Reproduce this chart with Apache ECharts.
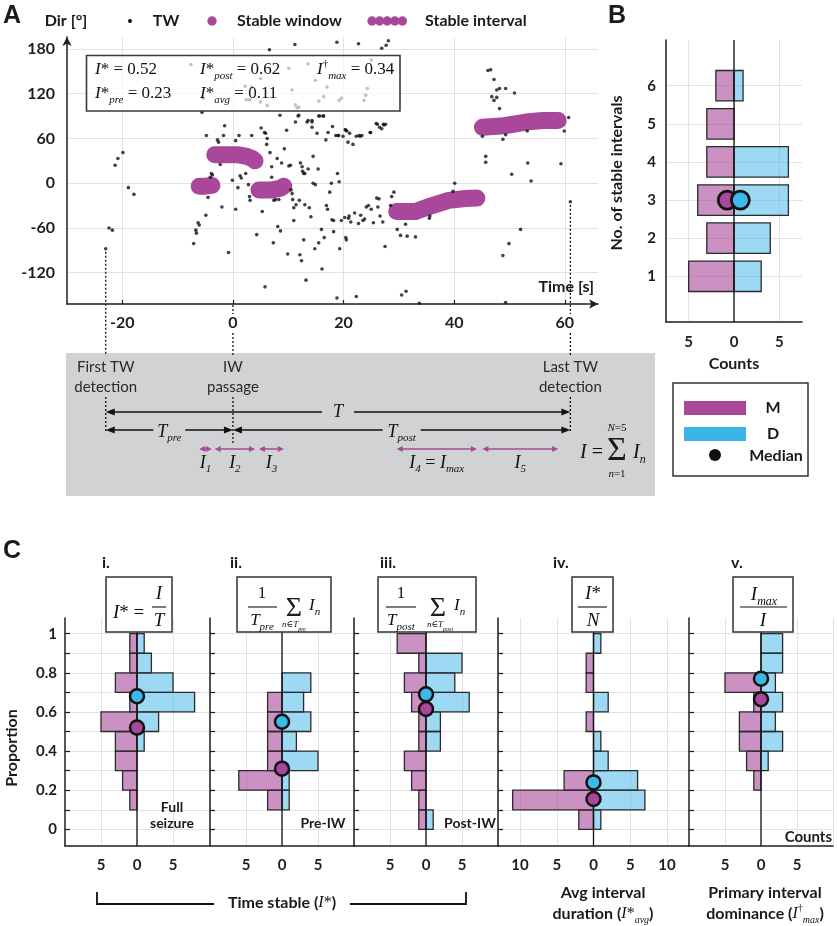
<!DOCTYPE html>
<html><head><meta charset="utf-8">
<script src="https://cdn.jsdelivr.net/npm/echarts@6.0.0/dist/echarts.min.js"></script>
<style>html,body{margin:0;padding:0;background:#fff;}#chart{width:837px;height:926px;}</style>
</head><body><div id="chart"></div>
<script>
// ================= DATA =================
// Panel A: travelling-wave (TW) detections [time s, direction deg]
const twPoints = [
[-23.0,-88],[-22.4,-60],[-21.8,-63],[-21.3,24],[-20.8,33],[-19.9,41],[-18.9,-6],[-17.9,-15],
[-7.6,159],[-7.1,-81],[-6.7,-63],[-6.6,-67],[-6.3,-53],[-6.1,-56],[-5.6,95],[-5.4,114],[-4.8,64],[-4.9,-43],[-4.5,-19],[-4.1,8],[-3.9,13],[-3.7,11],[-2.8,58],[-2.6,55],[-2.3,25],[-2.0,-32],[-1.7,64],[-1.5,77],[-0.8,-93],[-0.1,4],[0.5,-35],[0.5,57],[0.9,-6],[1.1,64],[1.3,10],[1.5,7],[2.3,13],[2.8,-2],[3.0,-18],[3.1,-23],[3.4,64],[4.3,-69],[5.1,74],[5.3,-38],[5.7,68],[5.8,-139],[6.1,52],[6.2,60],[6.6,179],[6.7,41],[7.0,22],[7.0,8],[7.4,-23],[7.3,-80],[7.7,-22],[8.0,33],[8.1,-58],[8.3,-22],[8.5,91],[8.6,-64],[8.8,27],[9.3,46],[9.7,71],[9.9,-95],[10.1,23],[10.4,24],[10.5,-9],[10.7,-14],[10.8,-22],[11.0,-50],[11.0,-33],[11.2,186],[11.3,82],[11.4,-29],[11.6,101],[11.8,90],[12.0,-23],[12.1,-96],[12.2,27],[12.4,-104],[12.5,22],[12.6,16],[12.8,13],[12.8,-76],[13.0,13],[13.0,-29],[13.2,-130],[13.4,82],[13.6,19],[13.8,-33],[14.1,-45],[14.3,82],[14.3,75],[14.5,36],[14.5,0],[14.8,-88],[14.9,-2],[15.2,67],[15.4,19],[15.5,-80],[15.7,90],[16.0,-62],[16.1,-115],[16.3,90],[16.5,-73],[16.8,58],[16.9,-30],[17.1,-35],[17.2,68],[17.5,-12],[17.8,0],[17.9,-49],[18.0,76],[18.2,-50],[18.2,-65],[18.6,64],[18.8,-154],[18.8,189],[18.9,13],[19.1,64],[19.2,2],[19.3,-88],[19.6,-50],[19.9,63],[20.2,-46],[20.3,72],[20.4,-73],[20.5,-76],[20.6,70],[20.8,55],[20.9,-47],[21.0,-44],[21.3,-52],[21.7,52],[22.0,-40],[22.3,63],[22.3,-152],[22.7,187],[22.7,-54],[23.0,63],[23.1,-43],[23.5,-50],[23.8,-48],[24.1,-32],[24.5,-30],[24.8,68],[25.0,-35],[25.4,-53],[25.9,80],[26.0,-20],[26.2,-32],[26.4,-21],[26.6,-44],[26.5,75],[26.9,181],[27.1,-52],[27.2,79],[27.5,-85],[27.6,79],[27.7,185],[28.1,191],[28.5,-30],[28.7,-18],[29.1,-12],[29.7,-62],[30.3,-70],[30.5,-150],[31.2,-55],[31.3,-145],[31.5,-71],[33.0,-72],[33.7,-161],[35.5,-47],[35.6,-44],[39.8,-11],[40.1,0],
[45.1,63],[45.7,36],[45.7,28],[46.1,151],[46.6,152],[46.8,116],[47.2,139],[47.2,111],[47.7,125],[47.7,115],[48.2,127],[48.2,100],[48.8,59],[48.8,-97],[49.3,127],[49.3,65],[49.3,-160],[49.9,-81],[50.4,12],[50.9,121],[52.0,-62],[53.2,70],[53.3,27],[53.9,3],[59.3,26],[59.9,70],[60.7,88],[61.0,-25],
[2.2,130],[2.4,112],[3.0,112],[3.4,129],[5.0,140],[5.0,109],[6.2,104],[10.1,154],[10.7,125],[11.3,105],[11.9,102],[13.6,160],[14.9,138],[15.5,110],[16.4,116],[17.0,129],[19.2,111],[19.6,114],[23.7,111],[24.0,118],[24.3,127],[25.0,165],
[11.9,91],[13.6,84],[14.3,84],[15.5,90],[16.4,90],[5.9,67],[19.0,64],[20.4,71],[21.1,67],[22.8,64],[23.3,64],[24.9,68],[26.1,79],[26.9,73],[27.3,78]
];
// Stable intervals (window centres [time, direction])
const stableInterval1 = [[-6.1,-4],[-5.0,-4],[-3.8,-3]];
const stableInterval2 = [[-3.3,38],[1.0,38],[2.5,36],[3.5,33],[4.0,30]];
const stableInterval3 = [[4.7,-9],[7.0,-9],[8.5,-7],[9.2,-4]];
const stableInterval4 = [[29.6,-38],[33.0,-38],[36.0,-30],[39.0,-23],[42.0,-20.5],[44.1,-20]];
const stableInterval5 = [[45.1,75],[49.0,77],[53.0,82],[56.0,84],[58.8,84]];
const stableIntervals = [stableInterval1, stableInterval2, stableInterval3, stableInterval4, stableInterval5];
const firstTw = [-23.0, -88];
const iwTime = 0;
const lastTw = [61.0, -25];
const timeTicks = [-20, 0, 20, 40, 60];
const dirTicks = [-120, -60, 0, 60, 120, 180];
const statValues = {Istar:'0.52', post:'0.62', max:'0.34', pre:'0.23', avg:'0.11'};

// Panel B: number of stable intervals
const nIntervals = [1, 2, 3, 4, 5, 6];
const countsM_B = [5, 3, 4, 3, 3, 2];
const countsD_B = [3, 4, 6, 6, 0, 1];
const medianM_B = 3, medianD_B = 3;
const countTicksB = [-5, 0, 5];

// Panel C: histograms over proportion bins (bottom bin [0,0.1] first)
const binEdges = [0, 0.1, 0.2, 0.3, 0.4, 0.5, 0.6, 0.7, 0.8, 0.9, 1.0];
const fullM = [0,1,2,3,3,5,1,3,1,1];
const fullD = [0,0,0,0,1,3,8,5,2,1];
const preM  = [0,2,6,2,2,2,2,0,0,0];
const preD  = [0,1,1,5,2,4,3,4,0,0];
const postM = [1,1,2,3,1,1,2,3,1,4];
const postD = [1,0,0,0,2,2,6,4,5,0];
const avgM  = [2,11,4,0,0,1,0,1,1,0];
const avgD  = [1,7,6,2,1,0,2,0,0,1];
const domM  = [0,0,1,2,3,3,1,5,0,0];
const domD  = [0,0,0,1,3,2,3,2,3,3];
const medianM_C = [0.52, 0.31, 0.615, 0.155, 0.665];
const medianD_C = [0.68, 0.55, 0.69, 0.24, 0.77];
const propTicks = [0, 0.1, 0.2, 0.3, 0.4, 0.5, 0.6, 0.7, 0.8, 0.9, 1.0];
const propLabels = [0, 0.2, 0.4, 0.6, 0.8, 1.0];

// ================= STYLE / LAYOUT =================
const SANS = 'Lato, "Noto Sans", "DejaVu Sans", sans-serif';
const SERIF = '"Liberation Serif", "DejaVu Serif", serif';
const HEAD = '"Liberation Sans", Arial, sans-serif';
const AX = '#1e1e1e', GRIDC = '#e2e2e2';
const PURPLE = '#A9479A', BLUE = '#3BB4E8';
const M_FILL = 'rgba(169,71,154,0.6)', D_FILL = 'rgba(60,180,230,0.5)';
const MED_M = '#A9479A', MED_D = '#3CB9E9';
const fS = (s, w) => (w || 'bold') + ' ' + s + 'px ' + SANS;
const fI = s => 'italic ' + s + 'px ' + SERIF;
const fR = s => s + 'px ' + SERIF;
const fH = s => 'bold ' + s + 'px ' + HEAD;

const cPanels = [
  {m: fullM, d: fullD, range: [-10, 10], grid: {left: 65, width: 144}, vals: [-5,0,5,10], labels: [-5,0,5]},
  {m: preM, d: preD, range: [-10, 10], grid: {left: 210, width: 144}, vals: [-5,0,5,10], labels: [-5,0,5]},
  {m: postM, d: postD, range: [-10, 10], grid: {left: 354, width: 144}, vals: [-5,0,5,10], labels: [-5,0,5]},
  {m: avgM, d: avgD, range: [-13, 13], grid: {left: 498, width: 191}, vals: [-10,-5,0,5,10], labels: [-10,-5,0,5,10]},
  {m: domM, d: domD, range: [-10, 10], grid: {left: 689, width: 144}, vals: [-5,0,5,10], labels: [-5,0,5]}
];
const C_YMIN = -0.085, C_YMAX = 1.08;

const chart = echarts.init(document.getElementById('chart'));

const tickLabel = (size, extra) => Object.assign({color: AX, fontFamily: SANS, fontWeight: 'bold', fontSize: size}, extra || {});
const axLine = (arrow) => ({show: true, onZero: false, lineStyle: {color: AX, width: 1.5}, symbol: arrow ? ['none', 'arrow'] : 'none', symbolSize: [7, 9]});
const split = {show: true, lineStyle: {color: GRIDC, width: 1}};

const grids = [
  {left: 67, top: 37, width: 531, height: 267},
  {left: 666, top: 40, width: 136, height: 282}
];
cPanels.forEach(p => grids.push({left: p.grid.left, top: 618, width: p.grid.width, height: 228}));
grids.forEach(g => { g.containLabel = false; g.outerBoundsMode = 'none'; });

const xAxes = [
  {gridIndex: 0, type: 'value', min: -30, max: 66, axisLine: axLine(true),
   axisTick: {show: true, inside: true, length: 4, customValues: timeTicks, lineStyle: {color: AX, width: 1.2}},
   axisLabel: tickLabel(16, {customValues: timeTicks, margin: 11}), splitLine: split},
  {gridIndex: 1, type: 'value', min: -7.5, max: 7.5, axisLine: axLine(false),
   axisTick: {show: false, customValues: countTicksB},
   axisLabel: tickLabel(15, {customValues: countTicksB, margin: 13, formatter: v => String(Math.abs(v))}), splitLine: split}
];
const yAxes = [
  {gridIndex: 0, type: 'value', min: -162, max: 196, axisLine: axLine(true),
   axisTick: {show: false, customValues: dirTicks},
   axisLabel: tickLabel(16, {customValues: dirTicks, margin: 12}), splitLine: split},
  {gridIndex: 1, type: 'value', min: -0.2, max: 7.2, axisLine: axLine(false),
   axisTick: {show: false, customValues: nIntervals},
   axisLabel: tickLabel(15, {customValues: nIntervals, margin: 10}), splitLine: split}
];
cPanels.forEach((p, k) => {
  xAxes.push({gridIndex: 2 + k, type: 'value', min: p.range[0], max: p.range[1], axisLine: axLine(false),
    axisTick: {show: false, customValues: p.vals},
    axisLabel: tickLabel(15, {customValues: p.labels, margin: 12, formatter: v => String(Math.abs(v))}), splitLine: split});
  yAxes.push({gridIndex: 2 + k, type: 'value', min: C_YMIN, max: C_YMAX, axisLine: axLine(false),
    axisTick: {show: true, inside: true, length: 5, customValues: propTicks, lineStyle: {color: AX, width: 1.2}},
    axisLabel: tickLabel(15, {show: k === 0, customValues: propLabels, margin: 8, formatter: v => String(Math.round(v * 10) / 10)}),
    splitLine: split});
});

function barRender(fill) {
  return function (params, api) {
    const lo = api.value(0), hi = api.value(1), v = api.value(2);
    const a = api.coord([0, hi]), b = api.coord([v, lo]);
    return {type: 'rect', shape: {x: Math.min(a[0], b[0]), y: Math.min(a[1], b[1]), width: Math.abs(b[0] - a[0]), height: Math.abs(b[1] - a[1])},
      style: {fill: fill, stroke: '#2b2b2b', lineWidth: 1.3}};
  };
}
const series = [];
// Panel A
stableIntervals.forEach(iv => series.push({type: 'line', xAxisIndex: 0, yAxisIndex: 0, data: iv, symbol: 'none', silent: true, z: 3,
  lineStyle: {color: PURPLE, width: 17, cap: 'round', join: 'round'}}));
series.push({type: 'scatter', xAxisIndex: 0, yAxisIndex: 0, data: twPoints, symbolSize: 3.6, silent: true, z: 4, itemStyle: {color: '#111'}});
// Panel B
const bData = (counts, sign) => nIntervals.map((n, i) => [n - 0.4, n + 0.4, sign * counts[i]]).filter(d => d[2] !== 0);
series.push({type: 'custom', xAxisIndex: 1, yAxisIndex: 1, data: bData(countsM_B, -1), renderItem: barRender(M_FILL), silent: true, z: 3});
series.push({type: 'custom', xAxisIndex: 1, yAxisIndex: 1, data: bData(countsD_B, 1), renderItem: barRender(D_FILL), silent: true, z: 3});
series.push({type: 'line', xAxisIndex: 1, yAxisIndex: 1, data: [[0, -0.2], [0, 7.2]], symbol: 'none', silent: true, z: 4, lineStyle: {color: '#111', width: 1.3}});
series.push({type: 'scatter', xAxisIndex: 1, yAxisIndex: 1, data: [[-0.75, medianM_B]], symbolSize: 18, silent: true, z: 5, itemStyle: {color: MED_M, borderColor: '#111', borderWidth: 2.8, opacity: 1}});
series.push({type: 'scatter', xAxisIndex: 1, yAxisIndex: 1, data: [[0.7, medianD_B]], symbolSize: 18, silent: true, z: 6, itemStyle: {color: MED_D, borderColor: '#111', borderWidth: 2.8, opacity: 1}});
// Panel C
const cData = (counts, sign) => counts.map((c, i) => [binEdges[i], binEdges[i + 1], sign * c]).filter(d => d[2] !== 0);
cPanels.forEach((p, k) => {
  const gi = 2 + k;
  series.push({type: 'custom', xAxisIndex: gi, yAxisIndex: gi, data: cData(p.m, -1), renderItem: barRender(M_FILL), silent: true, z: 3});
  series.push({type: 'custom', xAxisIndex: gi, yAxisIndex: gi, data: cData(p.d, 1), renderItem: barRender(D_FILL), silent: true, z: 3});
  series.push({type: 'line', xAxisIndex: gi, yAxisIndex: gi, data: [[0, C_YMIN], [0, C_YMAX]], symbol: 'none', silent: true, z: 4, lineStyle: {color: '#111', width: 1.3}});
  series.push({type: 'scatter', xAxisIndex: gi, yAxisIndex: gi, data: [[0, medianD_C[k]]], symbolSize: 14, silent: true, z: 5, itemStyle: {color: MED_D, borderColor: '#111', borderWidth: 2.5, opacity: 1}});
  series.push({type: 'scatter', xAxisIndex: gi, yAxisIndex: gi, data: [[0, medianM_C[k]]], symbolSize: 14, silent: true, z: 6, itemStyle: {color: MED_M, borderColor: '#111', borderWidth: 2.5, opacity: 1}});
});

chart.setOption({animation: false, backgroundColor: '#fff', textStyle: {fontFamily: SANS}, grid: grids, xAxis: xAxes, yAxis: yAxes, series: series});

// ================= ANNOTATIONS =================
function txt(x, y, text, font, o) {
  o = o || {};
  const al = o.align || 'center', va = o.va || 'middle';
  const st = {text: text, fill: o.fill || '#1a1a1a', align: al, verticalAlign: va, textAlign: al, textVerticalAlign: va};
  if (font) st.font = font;
  if (o.rich) st.rich = o.rich;
  return {type: 'text', x: x, y: y, rotation: o.rot || 0, z: 60, silent: true, style: st};
}
function richSet(fs, bs) {
  const sub = Math.round(fs * 0.62);
  return {
    i: {font: fI(fs), fill: '#111', lineHeight: fs + 6},
    r: {font: fR(fs), fill: '#111', lineHeight: fs + 6},
    s: {font: fI(sub), fill: '#111', lineHeight: sub, verticalAlign: 'bottom'},
    u: {font: fR(sub), fill: '#111', lineHeight: sub, verticalAlign: 'top'},
    b: {font: fS(bs || 16), fill: '#1a1a1a', lineHeight: fs + 6}
  };
}
const L = (x1, y1, x2, y2, stroke, lw, dash, z) => ({type: 'line', z: z || 50, silent: true, shape: {x1: x1, y1: y1, x2: x2, y2: y2}, style: {stroke: stroke, lineWidth: lw || 1.3, lineDash: dash || null}});
const RECT = (x, y, w, h, fill, stroke, lw, z) => ({type: 'rect', z: z || 49, silent: true, shape: {x: x, y: y, width: w, height: h}, style: {fill: fill, stroke: stroke || null, lineWidth: lw || 0}});
const CIRC = (cx, cy, r, fill) => ({type: 'circle', z: 50, silent: true, shape: {cx: cx, cy: cy, r: r}, style: {fill: fill}});
function harrow(xa, xb, y, color, gap, head, hw, lw) {
  head = head || 9; hw = hw || 3.5; lw = lw || 1.5;
  const els = [];
  const segs = gap ? [[xa + head - 1, gap[0]], [gap[1], xb - head + 1]] : [[xa + head - 1, xb - head + 1]];
  segs.forEach(s => els.push(L(s[0], y, s[1], y, color, lw)));
  els.push({type: 'polygon', z: 50, silent: true, shape: {points: [[xa, y], [xa + head, y - hw], [xa + head, y + hw]]}, style: {fill: color}});
  els.push({type: 'polygon', z: 50, silent: true, shape: {points: [[xb, y], [xb - head, y - hw], [xb - head, y + hw]]}, style: {fill: color}});
  return els;
}

function buildGraphic() {
  const g = [];
  const P = (t, d) => chart.convertToPixel({gridIndex: 0}, [t, d]);
  // panel letters
  g.push(txt(12, 16, 'A', fH(25)));
  g.push(txt(617, 16, 'B', fH(25)));
  g.push(txt(12, 551, 'C', fH(25)));

  // ---- Panel A legend & labels
  g.push(txt(66, 21, 'Dir [°]', fS(16)));
  g.push(CIRC(130, 21, 2, '#111'));
  g.push(txt(166, 21, 'TW', fS(16)));
  g.push(CIRC(212, 21, 4.7, PURPLE));
  g.push(txt(237, 21, 'Stable window', fS(16), {align: 'left'}));
  for (let k = 0; k < 5; k++) g.push(CIRC(372 + k * 7.6, 21, 4.7, PURPLE));
  g.push(txt(425, 21, 'Stable interval', fS(16), {align: 'left'}));
  g.push(txt(594, 287, 'Time [s]', fS(16), {align: 'right'}));

  // stats box
  g.push(RECT(86.5, 55.5, 313.5, 55.5, 'rgba(255,255,255,0.68)', '#3a3a3a', 1.6, 55));
  const rs = richSet(17);
  g.push(txt(95, 70, '{i|I}{r|* = ' + statValues.Istar + '}', null, {align: 'left', rich: rs}));
  g.push(txt(200, 70, '{i|I}{r|*}{s|post}{r| = ' + statValues.post + '}', null, {align: 'left', rich: rs}));
  g.push(txt(317, 70, '{i|I}{u|†}{s|max}{r| = ' + statValues.max + '}', null, {align: 'left', rich: rs}));
  g.push(txt(95, 94, '{i|I}{r|*}{s|pre}{r| = ' + statValues.pre + '}', null, {align: 'left', rich: rs}));
  g.push(txt(200, 94, '{i|I}{r|*}{s|avg}{r| = ' + statValues.avg + '}', null, {align: 'left', rich: rs}));

  // ---- timing diagram
  g.push(RECT(66, 353, 589, 143, '#D1D2D4', null, 0, 40));
  const pF = P(firstTw[0], firstTw[1]), pI = P(iwTime, 0), pL = P(lastTw[0], lastTw[1]);
  const axisY = P(0, -162)[1];
  const dash = [2, 2];
  g.push(L(pF[0], pF[1] + 3, pF[0], 356, '#111', 1.3, dash));
  g.push(L(pF[0], 397, pF[0], 431, '#111', 1.3, dash));
  g.push(L(pI[0], axisY + 1, pI[0], 314, '#111', 1.3, dash));
  g.push(L(pI[0], 333, pI[0], 356, '#111', 1.3, dash));
  g.push(L(pI[0], 397, pI[0], 444, '#111', 1.3, dash));
  g.push(L(pL[0], pL[1] + 3, pL[0], 314, '#111', 1.3, dash));
  g.push(L(pL[0], 333, pL[0], 356, '#111', 1.3, dash));
  g.push(L(pL[0], 397, pL[0], 431, '#111', 1.3, dash));
  const df = fS(15, 'normal'), dc = '#2a2a2a';
  g.push(txt(pF[0], 367, 'First TW', df, {fill: dc})); g.push(txt(pF[0], 387, 'detection', df, {fill: dc}));
  g.push(txt(pI[0], 367, 'IW', df, {fill: dc})); g.push(txt(pI[0], 387, 'passage', df, {fill: dc}));
  g.push(txt(pL[0], 367, 'Last TW', df, {fill: dc})); g.push(txt(pL[0], 387, 'detection', df, {fill: dc}));
  const rd = richSet(18);
  const mT = (pF[0] + pL[0]) / 2;
  harrow(pF[0], pL[0], 412, '#111', [mT - 16, mT + 16]).forEach(e => g.push(e));
  g.push(txt(mT, 412, '{i|T}', null, {rich: rd}));
  const mPre = (pF[0] + pI[0]) / 2;
  harrow(pF[0], pI[0], 430, '#111', [mPre - 16, mPre + 16]).forEach(e => g.push(e));
  g.push(txt(mPre, 432, '{i|T}{s|pre}', null, {rich: rd}));
  const mPost = (pI[0] + pL[0]) / 2;
  harrow(pI[0], pL[0], 430, '#111', [mPost - 19, mPost + 19]).forEach(e => g.push(e));
  g.push(txt(mPost, 432, '{i|T}{s|post}', null, {rich: rd}));
  stableIntervals.forEach((iv, k) => {
    const xa = P(iv[0][0], 0)[0], xb = P(iv[iv.length - 1][0], 0)[0];
    harrow(xa, xb, 449, PURPLE, null, 6, 3, 1.5).forEach(e => g.push(e));
    const lab = k === 3 ? '{i|I}{s|4}{r| = }{i|I}{s|max}' : '{i|I}{s|' + (k + 1) + '}';
    g.push(txt((xa + xb) / 2, 463, lab, null, {rich: rd}));
  });
  const r20 = richSet(20);
  g.push(txt(580, 453, '{i|I}{r| =}', null, {align: 'left', rich: r20}));
  g.push(txt(617, 451, 'Σ', fR(34)));
  g.push(txt(633, 453, '{i|I}{s|n}', null, {align: 'left', rich: r20}));
  g.push(txt(617, 428, '{i|N}{r|=5}', null, {rich: richSet(11)}));
  g.push(txt(617, 474, '{i|n}{r|=1}', null, {rich: richSet(11)}));

  // ---- Panel B labels & legend
  g.push(txt(734, 364, 'Counts', fS(16)));
  g.push(txt(617, 173, 'No. of stable intervals', fS(16), {rot: Math.PI / 2}));
  g.push(RECT(673, 383, 135, 93, '#fff', '#333', 1.5, 49));
  g.push(RECT(684, 401, 62, 14, PURPLE, null, 0, 50));
  g.push(txt(773, 408, 'M', fS(16)));
  g.push(RECT(684, 427, 62, 14, BLUE, null, 0, 50));
  g.push(txt(773, 434, 'D', fS(16)));
  g.push(CIRC(715, 455, 6, '#111'));
  g.push(txt(776, 456, 'Median', fS(16)));

  // ---- Panel C labels
  g.push(txt(12, 748, 'Proportion', fS(16), {rot: Math.PI / 2}));
  [['i.', 102], ['ii.', 230], ['iii.', 380], ['iv.', 553], ['v.', 731]].forEach(a => g.push(txt(a[1], 563, a[0], fS(16), {align: 'left'})));
  // formula boxes
  const r19 = richSet(19), r17 = richSet(17), r9 = richSet(9);
  g.push(RECT(106, 577, 66, 55, '#fff', '#333', 1.5, 55));
  g.push(txt(113, 613, '{i|I}{r|* =}', null, {align: 'left', rich: r19}));
  g.push(txt(159, 594, '{i|I}', null, {rich: r19}));
  g.push(L(152, 607, 166, 607, '#111', 1.1, null, 58));
  g.push(txt(159, 621, '{i|T}', null, {rich: r19}));

  g.push(RECT(237, 577, 94, 55, '#fff', '#333', 1.5, 55));
  g.push(txt(262, 594, '{r|1}', null, {rich: r17}));
  g.push(L(248, 607, 277, 607, '#111', 1.1, null, 58));
  g.push(txt(262, 621, '{i|T}{s|pre}', null, {rich: r17}));
  g.push(txt(294, 609, 'Σ', fR(28)));
  g.push(txt(309, 606, '{i|I}{s|n}', null, {align: 'left', rich: r17}));
  g.push(txt(294, 625, '{i|n}{r|∈}{i|T}{s|pre}', null, {rich: r9}));

  g.push(RECT(378, 577, 98, 55, '#fff', '#333', 1.5, 55));
  g.push(txt(401, 594, '{r|1}', null, {rich: r17}));
  g.push(L(386, 607, 416, 607, '#111', 1.1, null, 58));
  g.push(txt(401, 621, '{i|T}{s|post}', null, {rich: r17}));
  g.push(txt(438, 609, 'Σ', fR(28)));
  g.push(txt(454, 606, '{i|I}{s|n}', null, {align: 'left', rich: r17}));
  g.push(txt(440, 625, '{i|n}{r|∈}{i|T}{s|post}', null, {rich: r9}));

  g.push(RECT(572, 577, 41, 55, '#fff', '#333', 1.5, 55));
  g.push(txt(593, 594, '{i|I}{r|*}', null, {rich: r19}));
  g.push(L(578, 607, 607, 607, '#111', 1.1, null, 58));
  g.push(txt(593, 621, '{i|N}', null, {rich: r19}));

  g.push(RECT(733, 577, 60, 55, '#fff', '#333', 1.5, 55));
  g.push(txt(764, 595, '{i|I}{s|max}', null, {rich: r19}));
  g.push(L(740, 607, 787, 607, '#111', 1.1, null, 58));
  g.push(txt(763, 621, '{i|I}', null, {rich: r19}));

  g.push(txt(172, 807, 'Full', fS(14)));
  g.push(txt(172, 823, 'seizure', fS(14)));
  g.push(txt(323, 823, 'Pre-IW', fS(14)));
  g.push(txt(470, 823, 'Post-IW', fS(14)));
  g.push(txt(832, 837, 'Counts', fS(15), {align: 'right'}));

  // bottom axis titles
  g.push({type: 'polyline', z: 50, silent: true, shape: {points: [[97, 892], [97, 904], [214, 904]]}, style: {stroke: '#111', lineWidth: 1.8, fill: null}});
  g.push({type: 'polyline', z: 50, silent: true, shape: {points: [[350, 904], [466, 904], [466, 892]]}, style: {stroke: '#111', lineWidth: 1.8, fill: null}});
  const r16 = richSet(16);
  g.push(txt(282, 903, '{b|Time stable (}{i|I}{r|*}{b|)}', null, {rich: r16}));
  g.push(txt(603, 893, 'Avg interval', fS(16)));
  g.push(txt(603, 914, '{b|duration (}{i|I}{r|*}{s|avg}{b|)}', null, {rich: r16}));
  g.push(txt(765, 893, 'Primary interval', fS(16)));
  g.push(txt(765, 914, '{b|dominance (}{i|I}{u|†}{s|max}{b|)}', null, {rich: r16}));
  return g;
}
chart.setOption({graphic: {elements: buildGraphic()}});
</script></body></html>
